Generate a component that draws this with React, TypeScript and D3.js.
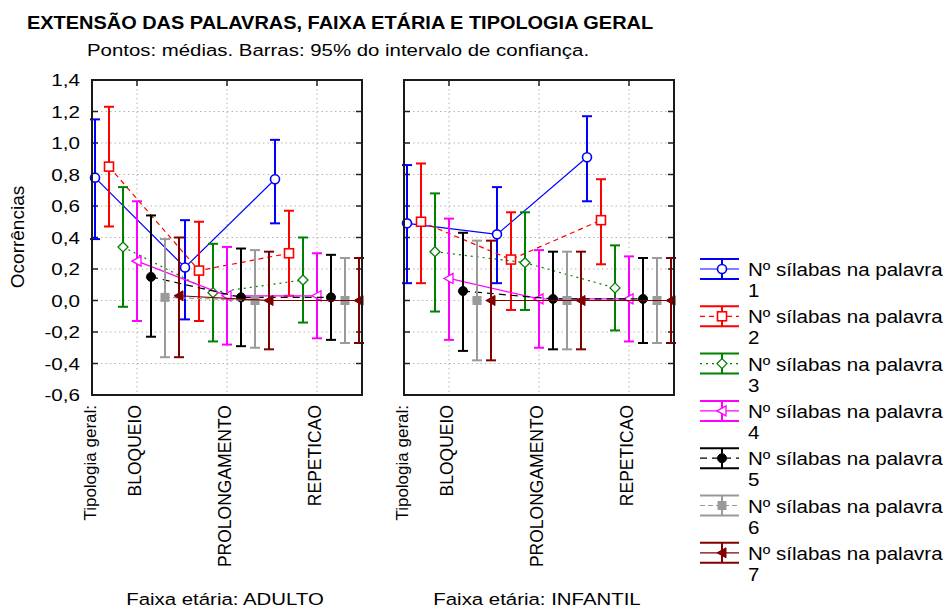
import React from "react";
import * as d3 from "d3";

const categories = ["BLOQUEIO", "PROLONGAMENTO", "REPETICAO"];
const panelNames = ["ADULTO", "INFANTIL"];
const seriesNumbers = ["1", "2", "3", "4", "5", "6", "7"];
const yTickValues = [-0.6, -0.4, -0.2, 0, 0.2, 0.4, 0.6, 0.8, 1.0, 1.2, 1.4];

// ADULTO
const adultoMean = [
  [0.78, 0.21, 0.77],
  [0.85, 0.19, 0.3],
  [0.34, 0.05, 0.13],
  [0.25, 0.03, 0.03],
  [0.15, 0.02, 0.02],
  [0.02, 0.0, 0.0],
  [0.03, 0.0, 0.0],
];
const adultoLower = [
  [0.39, -0.12, 0.49],
  [0.47, -0.13, 0.03],
  [-0.04, -0.26, -0.14],
  [-0.13, -0.28, -0.24],
  [-0.23, -0.29, -0.25],
  [-0.36, -0.3, -0.27],
  [-0.36, -0.31, -0.27],
];
const adultoUpper = [
  [1.15, 0.51, 1.02],
  [1.23, 0.5, 0.57],
  [0.72, 0.36, 0.4],
  [0.63, 0.34, 0.3],
  [0.54, 0.33, 0.29],
  [0.39, 0.32, 0.27],
  [0.4, 0.31, 0.27],
];

// INFANTIL
const infantilMean = [
  [0.49, 0.42, 0.91],
  [0.5, 0.26, 0.51],
  [0.31, 0.24, 0.08],
  [0.14, 0.01, 0.01],
  [0.06, 0.01, 0.01],
  [0.0, 0.0, 0.0],
  [0.0, 0.0, 0.0],
];
const infantilLower = [
  [0.11, 0.11, 0.63],
  [0.11, -0.06, 0.23],
  [-0.07, -0.06, -0.19],
  [-0.25, -0.3, -0.26],
  [-0.32, -0.31, -0.27],
  [-0.38, -0.31, -0.27],
  [-0.38, -0.31, -0.27],
];
const infantilUpper = [
  [0.86, 0.72, 1.17],
  [0.87, 0.56, 0.77],
  [0.68, 0.56, 0.35],
  [0.52, 0.32, 0.28],
  [0.43, 0.31, 0.27],
  [0.38, 0.31, 0.27],
  [0.38, 0.31, 0.27],
];

const panelData = [
  { mean: adultoMean, lo: adultoLower, hi: adultoUpper },
  { mean: infantilMean, lo: infantilLower, hi: infantilUpper },
];

const colors = ["#0000ff", "#ff0000", "#008000", "#ff00ff", "#000000", "#9a9a9a", "#800000"];
const dashes = [undefined, "5,4", "2,4", undefined, "7,5", "5,3", undefined];
const FONT = "'Liberation Sans', Arial, sans-serif";

function Marker({ s, x, y }: { s: number; x: number; y: number }) {
  const c = colors[s];
  if (s === 0) return <circle cx={x} cy={y} r={4.5} fill="#fff" stroke={c} strokeWidth={1.6} />;
  if (s === 1) return <rect x={x - 4.5} y={y - 4.5} width={9} height={9} fill="#fff" stroke={c} strokeWidth={1.6} />;
  if (s === 2)
    return <path d={`M${x},${y - 5}L${x + 5},${y}L${x},${y + 5}L${x - 5},${y}Z`} fill="#fff" stroke={c} strokeWidth={1.3} />;
  if (s === 3)
    return <path d={`M${x - 5},${y}L${x + 4},${y - 5}L${x + 4},${y + 5}Z`} fill="#fff" stroke={c} strokeWidth={1.3} />;
  if (s === 4) return <circle cx={x} cy={y} r={4.5} fill={c} stroke={c} />;
  if (s === 5) return <rect x={x - 4.5} y={y - 4.5} width={9} height={9} fill={c} />;
  return <path d={`M${x - 5},${y}L${x + 4},${y - 5}L${x + 4},${y + 5}Z`} fill={c} stroke={c} />;
}

export default function App() {
  const y = d3.scaleLinear().domain([-0.6, 1.4]).range([395, 80]);
  const panelLefts = [92, 404];
  const panelW = 270;
  const offset = 14;
  const fmt = (v: number) => d3.format(".1f")(v).replace(".", ",").replace("−", "-");
  const lineGen = d3
    .line<[number, number]>()
    .x((d) => d[0])
    .y((d) => d[1]);

  return (
    <svg width={946} height={608} style={{ position: "absolute", left: 0, top: 0, background: "#fff" }} fontFamily={FONT}>
      <rect width={946} height={608} fill="#fff" />
      <text transform="translate(27,29) scale(1.14,1)" fontSize={17.5} fontWeight="bold" fill="#000">
        EXTENSÃO DAS PALAVRAS, FAIXA ETÁRIA E TIPOLOGIA GERAL
      </text>
      <text transform="translate(87,56) scale(1.2,1)" fontSize={17} fill="#000">
        Pontos: médias. Barras: 95% do intervalo de confiança.
      </text>

      {/* y axis labels */}
      {yTickValues.map((v) => (
        <text key={v} transform={`translate(80,${y(v) + 6}) scale(1.25,1)`} textAnchor="end" fontSize={16.5} fill="#000">
          {fmt(v)}
        </text>
      ))}
      <text transform="translate(24,237) rotate(-90)" textAnchor="middle" fontSize={19} fill="#000">
        Ocorrências
      </text>

      {panelLefts.map((left, p) => {
        const x = d3.scalePoint<string>().domain(categories).range([left + 45, left + 225]);
        const data = panelData[p];
        const right = left + panelW;
        return (
          <g key={p}>
            {/* grid */}
            {yTickValues.slice(1, -1).map((v) => (
              <line key={"h" + v} x1={left} x2={right} y1={y(v)} y2={y(v)} stroke="#b5b5b5" strokeDasharray="1.5,3" />
            ))}
            {categories.map((c) => (
              <line key={"v" + c} x1={x(c)} x2={x(c)} y1={y(1.4)} y2={y(-0.6)} stroke="#b5b5b5" strokeDasharray="1.5,3" />
            ))}
            {/* ticks */}
            {yTickValues.slice(1, -1).map((v) => (
              <g key={"t" + v}>
                <line x1={left} x2={left + 6} y1={y(v)} y2={y(v)} stroke="#222" strokeWidth={1.5} />
                <line x1={right - 6} x2={right} y1={y(v)} y2={y(v)} stroke="#222" strokeWidth={1.5} />
              </g>
            ))}
            {categories.map((c) => (
              <line key={"tt" + c} x1={x(c)} x2={x(c)} y1={y(1.4)} y2={y(1.4) + 6} stroke="#222" strokeWidth={1.5} />
            ))}

            {/* series */}
            {seriesNumbers.map((_, s) => {
              const pts: [number, number][] = categories.map((c, i) => [
                (x(c) as number) + (s - 3) * offset,
                y(data.mean[s][i]),
              ]);
              return (
                <g key={"s" + s}>
                  <path d={lineGen(pts) || ""} fill="none" stroke={colors[s]} strokeWidth={1.2} strokeDasharray={dashes[s]} />
                  {categories.map((c, i) => {
                    const cx = pts[i][0];
                    const y1 = y(data.hi[s][i]);
                    const y2 = y(data.lo[s][i]);
                    return (
                      <g key={c} stroke={colors[s]} strokeWidth={2}>
                        <line x1={cx} x2={cx} y1={y1} y2={y2} />
                        <line x1={cx - 5} x2={cx + 5} y1={y1} y2={y1} />
                        <line x1={cx - 5} x2={cx + 5} y1={y2} y2={y2} />
                      </g>
                    );
                  })}
                  {categories.map((c, i) => (
                    <Marker key={"m" + c} s={s} x={pts[i][0]} y={pts[i][1]} />
                  ))}
                </g>
              );
            })}

            {/* frame */}
            <rect x={left} y={y(1.4)} width={panelW} height={y(-0.6) - y(1.4)} fill="none" stroke="#1a1a1a" strokeWidth={2} />

            {/* x labels */}
            <text transform={`translate(${left + 4},405) rotate(-90)`} textAnchor="end" fontSize={17} fill="#000">
              Tipologia geral:
            </text>
            {categories.map((c) => (
              <text key={"l" + c} transform={`translate(${(x(c) as number) + 4},405) rotate(-90)`} textAnchor="end" fontSize={17.5} fill="#000">
                {c}
              </text>
            ))}
            <text transform={`translate(${left + 133},605) scale(1.2,1)`} textAnchor="middle" fontSize={17} fill="#000">
              {"Faixa etária: " + panelNames[p]}
            </text>
          </g>
        );
      })}

      {/* legend */}
      {seriesNumbers.map((n, s) => {
        const cy = 269 + s * 47.3;
        return (
          <g key={"lg" + n}>
            <g stroke={colors[s]} strokeWidth={2}>
              <line x1={700} x2={739} y1={cy - 10} y2={cy - 10} />
              <line x1={700} x2={739} y1={cy + 10} y2={cy + 10} />
              <line x1={722} x2={722} y1={cy - 10} y2={cy + 10} />
            </g>
            <line x1={700} x2={739} y1={cy} y2={cy} stroke={colors[s]} strokeWidth={1.2} strokeDasharray={dashes[s]} />
            <Marker s={s} x={722} y={cy} />
            <text transform={`translate(748,${cy + 7}) scale(1.11,1)`} fontSize={18.5} fill="#000">
              Nº sílabas na palavra
            </text>
            <text transform={`translate(748,${cy + 28}) scale(1.11,1)`} fontSize={18.5} fill="#000">
              {n}
            </text>
          </g>
        );
      })}
    </svg>
  );
}
